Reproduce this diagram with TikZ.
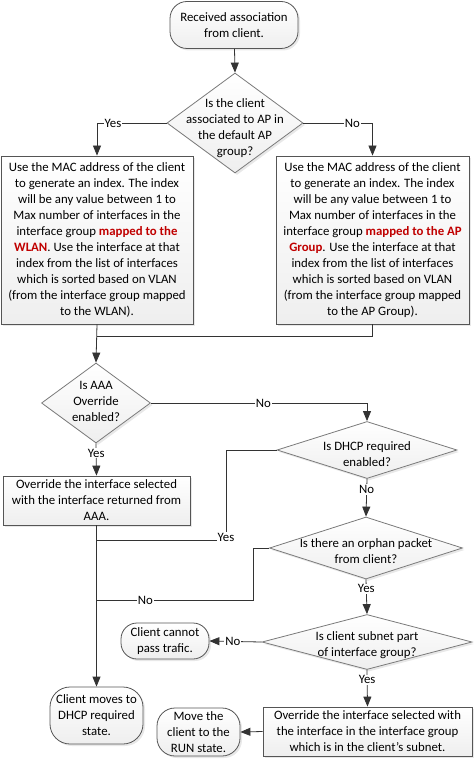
\documentclass[tikz,border=0pt]{standalone}
\usepackage{fontspec}
\setmainfont{Carlito}
\usetikzlibrary{shapes.geometric,arrows.meta,shadows}
\definecolor{ln}{HTML}{333333}
\definecolor{bd}{HTML}{555555}
\definecolor{dbd}{HTML}{7A7A7A}
\definecolor{redt}{HTML}{C00000}
\newcommand{\hl}[1]{\textcolor{redt}{\textbf{#1}}}
\begin{document}
\begin{tikzpicture}[x=1pt,y=-1pt,
  every node/.style={font=\fontsize{12.8}{16}\selectfont},
  base/.style={draw=bd, line width=0.8pt, top color=white, bottom color=gray!13,
    drop shadow={shadow xshift=2pt, shadow yshift=-2pt, fill=gray!35}},
  box/.style={base, rectangle, inner sep=1pt, align=center},
  stad/.style={base, rectangle, rounded corners=17pt, align=center, inner sep=1pt},
  dia/.style={base, draw=dbd, diamond, inner sep=0pt},
  dtxt/.style={align=center, inner sep=0pt},
  arr/.style={draw=ln, line width=0.8pt, -{Triangle[length=10pt,width=8pt]}},
  con/.style={draw=ln, line width=0.8pt},
  lab/.style={fill=white, inner sep=1pt}]
\useasboundingbox (0,0) rectangle (475,759);

% nodes
\node[stad, minimum width=128, minimum height=47] (s) at (234,25) {Received association\\from client.};
\node[dia, minimum width=136, minimum height=100] (d1) at (235,123) {};
\node[dtxt] (d1t) at (235,128) {Is the client\\associated to AP in\\the default AP\\group?};

\node[box, minimum width=192, minimum height=168] (lb) at (97,240)
 {Use the MAC address of the client\\to generate an index. The index\\will be any value between 1 to\\Max number of interfaces in the\\interface group \hl{mapped to the}\\\hl{WLAN}. Use the interface at that\\index from the list of interfaces\\which is sorted based on VLAN\\(from the interface group mapped\\to the WLAN).};
\node[box, minimum width=193, minimum height=168] (rb) at (372.5,240)
 {Use the MAC address of the client\\to generate an index. The index\\will be any value between 1 to\\Max number of interfaces in the\\interface group \hl{mapped to the AP}\\\hl{Group}. Use the interface at that\\index from the list of interfaces\\which is sorted based on VLAN\\(from the interface group mapped\\to the AP Group).};

\node[dia, minimum width=109, minimum height=80] (d2) at (96,403) {};
\node[dtxt] (d2t) at (96,401) {Is AAA\\Override\\enabled?};

\node[box, minimum width=187, minimum height=49] (o1) at (96.5,500.5)
 {Override the interface selected\\with the interface returned from\\AAA.};

\node[dia, minimum width=180, minimum height=57] (d3) at (367,450) {};
\node[dtxt] (d3t) at (367,454) {Is DHCP required\\enabled?};

\node[dia, minimum width=193, minimum height=62] (d4) at (366,548) {};
\node[dtxt] (d4t) at (366,551) {Is there an orphan packet\\from client?};

\node[dia, minimum width=210, minimum height=55] (d5) at (367,642) {};
\node[dtxt] (d5t) at (367,645) {Is client subnet part\\of interface group?};

\node[stad, rounded corners=16pt, minimum width=88, minimum height=36] (cp) at (165,641) {Client cannot\\pass trafic.};

\node[box, minimum width=209, minimum height=49] (o2) at (367.5,731.5)
 {Override the interface selected with\\the interface in the interface group\\which is in the client's subnet.};

\node[stad, rounded corners=18pt, minimum width=83, minimum height=48] (run) at (198.5,732) {Move the\\client to the\\RUN state.};
\node[stad, rounded corners=20pt, minimum width=93, minimum height=57] (c2) at (96.5,715.5) {Client moves to\\DHCP required\\state.};

% junctions
\coordinate (j0) at (97,336);
\coordinate (j1) at (97,540);
\coordinate (j2) at (97,600);
\coordinate (yc) at (226,540);
\coordinate (nc) at (253,600);

% connectors
\draw[arr] (s) -- (d1.north);
\draw[arr] (d1.west) -| node[lab, pos=0.385] {Yes} (lb.north);
\draw[arr] (d1.east) -| node[lab, pos=0.355] {No} (rb.north);
\draw[arr] (lb.south) -- (d2.north);
\draw[con] (rb.south) |- (j0);
\draw[arr] (d2.east) -| node[lab, pos=0.26] {No} (d3.north);
\draw[arr] (d2.south) -- node[lab, pos=0.3] {Yes} (o1.north);
\draw[arr] (o1.south) -- (c2.north);
\draw[con] (d3.west) -| (yc) -- (j1);
\node[lab] (ylab) at (226,537) {Yes};
\draw[arr] (d3.south) -- node[lab, pos=0.28] {No} (d4.north);
\draw[con] (d4.west) -| (nc) -- node[lab, pos=0.69] {No} (j2);
\draw[arr] (d4.south) -- node[lab, pos=0.27] {Yes} (d5.north);
\draw[arr] (d5.west) -- node[lab, pos=0.55] {No} (cp.east);
\draw[arr] (d5.south) -- node[lab, pos=0.27] {Yes} (o2.north);
\draw[arr] (o2.west) -- (run.east);
\end{tikzpicture}
\end{document}
